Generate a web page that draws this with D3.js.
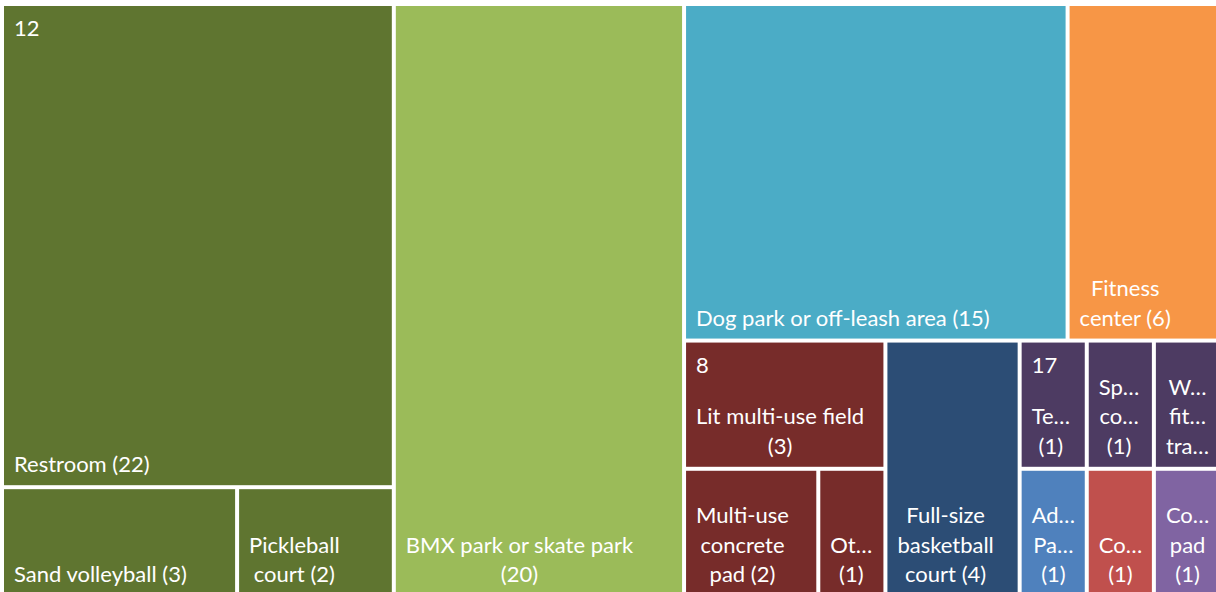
<!DOCTYPE html>
<html lang="en">

<head>
    <meta charset="UTF-8">
    <title>Amenities Treemap</title>
    <style>
        body {
            margin: 0;
            background-color: #fff;
        }

        svg {
            display: block;
        }

        .leaf-label,
        .group-label {
            font-family: 'Lato', sans-serif;
            font-size: 22px;
            fill: #fff;
        }
    </style>
    <script src="https://d3js.org/d3.v7.min.js"></script>
</head>

<body>
    <svg id="treemap" width="1216" height="592"></svg>

    <script>
        // Top level groups (a blank name means a single amenity with no group label)
        const groupNames = ["12", "", "", "", "8", "", "17", "", "", ""];
        const groupColors = ["#5f7530", "#9bbb59", "#4bacc6", "#f79646", "#772c2a",
            "#2c4d75", "#4d3b62", "#4f81bd", "#c0504d", "#8064a2"];

        // Amenities, "\n" marks where the label wraps
        const leafNames = ["Restroom", "Sand volleyball", "Pickleball\ncourt",
            "BMX park or skate park\n", "Dog park or off-leash area", "Fitness\ncenter",
            "Lit multi-use field\n", "Multi-use\nconcrete\npad", "Ot…\n",
            "Full-size\nbasketball\ncourt", "Te…\n", "Sp…\nco…\n", "W…\nfit…\ntra…\n",
            "Ad…\nPa…\n", "Co…\n", "Co…\npad\n"];
        const leafValues = [22, 3, 2, 20, 15, 6, 3, 2, 1, 4, 1, 1, 1, 1, 1, 1];
        const leafGroup = [0, 0, 0, 1, 2, 3, 4, 4, 4, 5, 6, 6, 6, 7, 8, 9];

        const width = 1215, height = 589;
        const lineH = 29.5;

        const data = {
            name: "root",
            children: groupNames.map((g, i) => ({
                name: g,
                color: groupColors[i],
                children: leafNames
                    .map((n, j) => ({ name: n, value: leafValues[j], group: leafGroup[j] }))
                    .filter(d => d.group === i)
            }))
        };

        // Excel's squarify keeps slightly longer strips than d3's, stretch x a bit while tiling
        const stretch = 1.05;
        const tile = (node, x0, y0, x1, y1) => {
            d3.treemapSquarify.ratio(1)(node, x0, y0, x0 + (x1 - x0) * stretch, y1);
            node.children.forEach(c => {
                c.x0 = x0 + (c.x0 - x0) / stretch;
                c.x1 = x0 + (c.x1 - x0) / stretch;
            });
        };

        const root = d3.hierarchy(data)
            .sum(d => d.value || 0)
            .sort((a, b) => b.value - a.value);

        d3.treemap().tile(tile).size([width, height]).paddingInner(4)(root);

        const svg = d3.select("#treemap");
        const chart = svg.append("g").attr("transform", "translate(4,6)");

        const leaves = chart.selectAll("g.leaf")
            .data(root.leaves())
            .enter()
            .append("g")
            .attr("class", "leaf");

        leaves.append("rect")
            .attr("x", d => d.x0)
            .attr("y", d => d.y0)
            .attr("width", d => d.x1 - d.x0)
            .attr("height", d => d.y1 - d.y0)
            .attr("fill", d => d.parent.data.color);

        // Leaf labels: bottom-left block, lines centred on each other
        leaves.each(function (d) {
            const g = d3.select(this);
            const maxLines = Math.floor((d.y1 - d.y0 - 16) / lineH);
            const lines = `${d.data.name} (${d.value})`.split("\n")
                .map(s => s.trim()).slice(0, maxLines);
            const texts = lines.map((line, i) => g.append("text")
                .attr("class", "leaf-label")
                .attr("y", d.y1 - 13 - (lines.length - 1 - i) * lineH)
                .text(line));
            const maxW = d3.max(texts, t => t.node().getComputedTextLength());
            texts.forEach(t => t.attr("x", d.x0 + 10 + maxW / 2).style("text-anchor", "middle"));
        });

        // Group labels in the top-left corner
        chart.selectAll("text.group-label")
            .data(root.children.filter(d => d.data.name !== ""))
            .enter()
            .append("text")
            .attr("class", "group-label")
            .attr("x", d => d.x0 + 10)
            .attr("y", d => d.y0 + 30)
            .text(d => d.data.name);
    </script>
</body>

</html>
